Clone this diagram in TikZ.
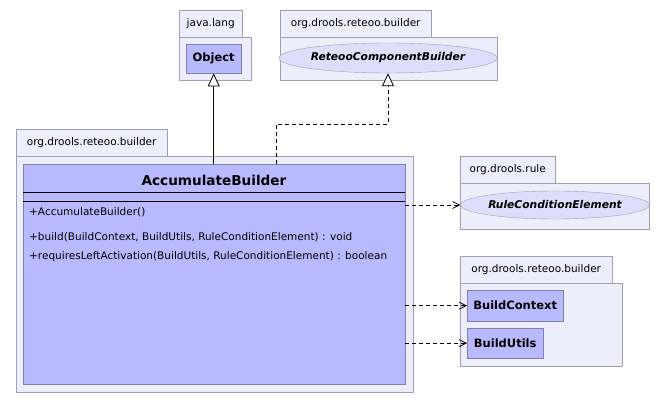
\documentclass[tikz,border=0pt]{standalone}
\usepackage{fontspec}
\setmainfont{DejaVu Sans}
\usepackage{xcolor}
\usetikzlibrary{arrows.meta, shapes.geometric}

\definecolor{pkgfill}{RGB}{238,238,250}
\definecolor{pkgline}{RGB}{160,160,178}
\definecolor{clsfill}{RGB}{185,185,255}
\definecolor{clsline}{RGB}{128,128,164}
\definecolor{ifcfill}{RGB}{222,222,250}

\begin{document}
\begin{tikzpicture}[x=1pt, y=-1pt, font=\fontsize{10.5}{12}\selectfont,
  pkgtab/.style={draw=pkgline, fill=pkgfill, anchor=north west, minimum height=27pt, inner sep=0pt},
  pkgbody/.style={draw=pkgline, fill=pkgfill, anchor=north west, inner sep=0pt},
  classbox/.style={draw=clsline, fill=clsfill, anchor=north west, inner sep=0pt, font=\fontsize{11.5}{13}\selectfont\bfseries},
  ifacebox/.style={ellipse, draw=pkgline, fill=ifcfill, inner sep=0pt, font=\fontsize{10.7}{12}\selectfont\bfseries\itshape},
  member/.style={anchor=west, inner sep=0pt},
  general/.style={-{Triangle[length=13pt, width=12pt, fill=white]}, line width=0.8pt},
  realize/.style={general, dash pattern=on 4pt off 3pt},
  depend/.style={-{Straight Barb[length=7pt, width=7pt]}, dash pattern=on 4pt off 3pt, line width=0.8pt}]
		\useasboundingbox (0,0) rectangle (669,403);

		% Package java.lang
		\node[pkgtab, minimum width=63pt] (jltab) at (179,10) {java.lang};
		\node[pkgbody, minimum width=72pt, minimum height=43pt] (jlbody) at (179,37) {};
		\node[classbox, minimum width=55pt, minimum height=29pt] (obj) at (186,44) {Object};

		% Package org.drools.reteoo.builder (top)
		\node[pkgtab, minimum width=151pt] (rbtab) at (280,10) {org.drools.reteoo.builder};
		\node[pkgbody, minimum width=217pt, minimum height=43pt] (rbbody) at (280,37) {};
		\node[ifacebox, minimum width=202pt, minimum height=30pt] (rcb) at (388,58) {ReteooComponentBuilder};

		% Package org.drools.reteoo.builder (main)
		\node[pkgtab, minimum width=151pt] (mbtab) at (16,129) {org.drools.reteoo.builder};
		\node[pkgbody, minimum width=397pt, minimum height=236pt] (mbbody) at (16,156) {};
		\node[classbox, minimum width=382pt, minimum height=220pt] (acc) at (23,164) {};
		\node[font=\fontsize{13.6}{15}\selectfont\bfseries] (acctitle) at (214,180) {AccumulateBuilder};
		\draw (acc.west |- 0,192) -- (acc.east |- 0,192);
		\draw (acc.west |- 0,201) -- (acc.east |- 0,201);
		\node[member] (m1) at (29,212) {+AccumulateBuilder()};
		\node[member] (m2) at (29,237) {+build(BuildContext, BuildUtils, RuleConditionElement) : void};
		\node[member] (m3) at (29,257) {+requiresLeftActivation(BuildUtils, RuleConditionElement) : boolean};

		% Package org.drools.rule
		\node[pkgtab, minimum width=95pt] (rltab) at (460,156) {org.drools.rule};
		\node[pkgbody, minimum width=189pt, minimum height=46pt] (rlbody) at (460,183) {};
		\node[ifacebox, minimum width=177pt, minimum height=28pt] (rce) at (555,205) {RuleConditionElement};

		% Package org.drools.reteoo.builder (lower right)
		\node[pkgtab, minimum width=152pt] (lbtab) at (460,256) {org.drools.reteoo.builder};
		\node[pkgbody, minimum width=162pt, minimum height=83pt] (lbbody) at (460,283) {};
		\node[classbox, minimum width=96pt, minimum height=31pt] (ctx) at (467,290) {BuildContext};
		\node[classbox, minimum width=76pt, minimum height=30pt] (utl) at (467,328) {BuildUtils};

		% Connectors
		\draw[general] (acc.north -| obj.south) -- (obj.south);
		\coordinate (bend) at (276,124);
		\draw[realize] (acc.north -| bend) |- (bend) -| (rcb.south);
		\draw[depend] (acc.east |- rce.west) -- (rce.west);
		\draw[depend] (acc.east |- ctx.west) -- (ctx.west);
		\draw[depend] (acc.east |- utl.west) -- (utl.west);
	\end{tikzpicture}
\end{document}
